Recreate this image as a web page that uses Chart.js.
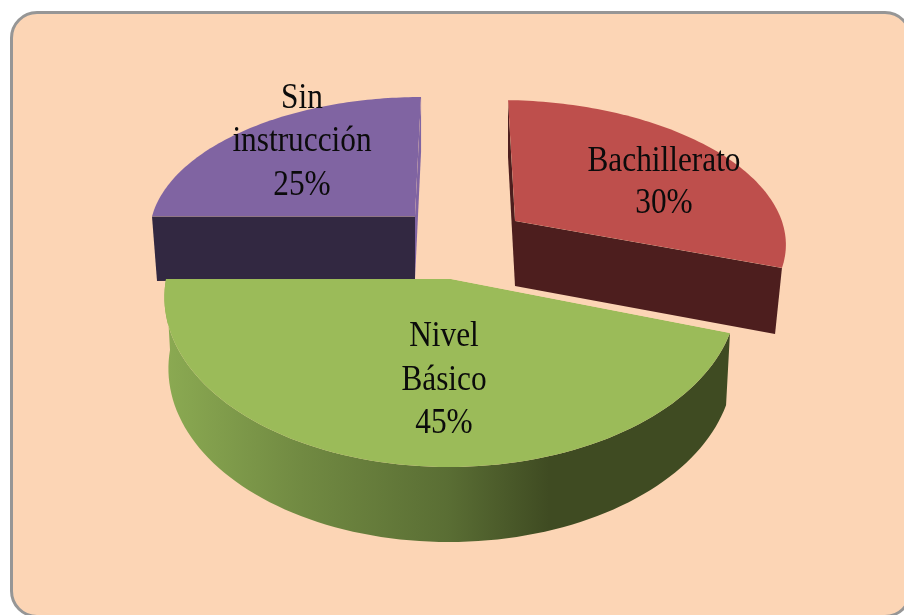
<!DOCTYPE html>
<html>
<head>
<meta charset="utf-8">
<script src="https://cdn.jsdelivr.net/npm/chart.js@4"></script>
<style>
  html, body { margin: 0; padding: 0; background: #fff; overflow: hidden; width: 904px; height: 615px; }
  #frame { position: absolute; left: 10px; top: 11px; width: 902px; height: 607px; box-sizing: border-box;
           background: #FCD5B5; border: 3px solid #969696; border-radius: 27px; }
  #pie { position: absolute; left: 0; top: 0; filter: blur(0.35px); }
</style>
</head>
<body>
<div id="frame"></div>
<canvas id="pie" width="904" height="615"></canvas>
<script>
const categories = ['Bachillerato', 'Nivel Básico', 'Sin instrucción'];
const percentages = [30, 45, 25];
const labelLines = [['Bachillerato', '30%'], ['Nivel', 'Básico', '45%'], ['Sin', 'instrucción', '25%']];
const topColors = ['#BE4F4C', '#9BBB59', '#8064A2'];

// how each slice of the flat pie lies on the page: top face, bottom face, perspective
const topFaces = [
    {cx: 515, cy: 221, a: 268, b: 3.7, c: 7.8, d: 135},
    {cx: 451, cy: 279, a: 285, b: 0, c: -2, d: 169.4},
    {cx: 415, cy: 216.5, a: 263, b: 0, c: -6.7, d: 132.6}
];
const bottomFaces = [
    {cx: 515, cy: 286, a: 261, b: 1.9, c: 7.8, d: 144},
    {cx: 451, cy: 350, a: 281, b: 0, c: -2, d: 173},
    {cx: 415, cy: 279, a: 258, b: -2, c: -6.7, d: 141}
];
const perspective = [0.117, 0.099, 0.11];
const startFaceColors = ['#4D1E1E', null, '#322841'];
const endFaceColors = ['#4D1E1E', null, '#8064A2'];
const labelCenters = [664, 444, 302];
const labelBaselines = [[171, 213], [346, 390, 433], [108, 151, 195]];
const drawOrder = [2, 0, 1];

function facePoint(f, k, angle) {
    const u = Math.cos(angle), v = Math.sin(angle);
    const w = 1 - k * v;
    return [f.cx + (f.a * u + f.c * v) / w, f.cy + (f.b * u + f.d * v) / w];
}

function tracePoly(ctx, points) {
    ctx.beginPath();
    points.forEach((p, i) => i ? ctx.lineTo(p[0], p[1]) : ctx.moveTo(p[0], p[1]));
    ctx.closePath();
}

function rimPoints(f, k, start, end) {
    const points = [];
    for (let s = 0; s <= 90; s++) {
        points.push(facePoint(f, k, start + (end - start) * s / 90));
    }
    return points;
}

function cutFace(ctx, i, angle, color) {
    const t = topFaces[i], b = bottomFaces[i], k = perspective[i];
    tracePoly(ctx, [[t.cx, t.cy], facePoint(t, k, angle), facePoint(b, k, angle), [b.cx, b.cy]]);
    ctx.fillStyle = color;
    ctx.fill();
}

function outerWall(ctx, i, start, end) {
    const k = perspective[i];
    const upper = rimPoints(topFaces[i], k, start, end);
    const lower = rimPoints(bottomFaces[i], k, start, end).reverse();
    const g = ctx.createLinearGradient(165, 0, 730, 0);
    g.addColorStop(0, '#8BAA52');
    g.addColorStop(0.24, '#718A42');
    g.addColorStop(0.5, '#5A6E34');
    g.addColorStop(0.68, '#3F4B22');
    g.addColorStop(1, '#3F4B22');
    tracePoly(ctx, upper.concat(lower));
    ctx.fillStyle = g;
    ctx.fill();
}

const pie3d = {
    id: 'pie3d',
    beforeDatasetDraw(chart, args) {
        const ctx = chart.ctx;
        const arcs = args.meta.data;
        drawOrder.forEach(i => {
            const el = arcs[i];
            const t = topFaces[i];
            const R = el.outerRadius / 1.4;
            if (i === 1) outerWall(ctx, i, el.startAngle, el.endAngle);
            if (startFaceColors[i]) cutFace(ctx, i, el.startAngle, startFaceColors[i]);
            if (endFaceColors[i]) cutFace(ctx, i, el.endAngle, endFaceColors[i]);
            ctx.save();
            // the arc keeps its rays under the flat transform, the clip gives it the perspective rim
            tracePoly(ctx, [[t.cx, t.cy]].concat(rimPoints(t, perspective[i], el.startAngle, el.endAngle)));
            ctx.clip();
            ctx.translate(t.cx, t.cy);
            ctx.transform(t.a / R, t.b / R, t.c / R, t.d / R, 0, 0);
            ctx.translate(-el.x, -el.y);
            el.draw(ctx);
            ctx.restore();
        });
        return false;
    },
    afterDatasetsDraw(chart) {
        const ctx = chart.ctx;
        ctx.save();
        ctx.fillStyle = '#0b0b0b';
        ctx.font = '36px "Liberation Serif"';
        ctx.textAlign = 'center';
        ctx.textBaseline = 'alphabetic';
        labelLines.forEach((lines, i) => {
            lines.forEach((line, j) => {
                ctx.save();
                ctx.translate(labelCenters[i], labelBaselines[i][j]);
                ctx.scale(0.87, 1);
                ctx.fillText(line, 0, 0);
                ctx.restore();
            });
        });
        ctx.restore();
    }
};

new Chart(document.getElementById('pie'), {
    type: 'pie',
    data: {
        labels: categories,
        datasets: [{
            data: percentages,
            backgroundColor: topColors,
            borderWidth: 0
        }]
    },
    options: {
        responsive: false,
        animation: false,
        plugins: {
            legend: {display: false},
            tooltip: {enabled: false}
        }
    },
    plugins: [pie3d]
});
</script>
</body>
</html>
